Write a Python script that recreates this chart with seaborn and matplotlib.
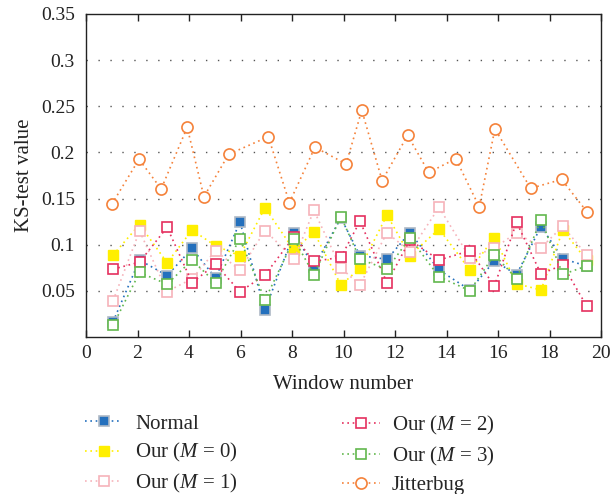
import matplotlib
matplotlib.use("Agg")
import matplotlib.pyplot as plt
import seaborn as sns
import pandas as pd

# ---- data ----
x_common = [1.05, 2.08, 3.15, 4.12, 5.03, 5.98, 6.95, 8.08, 8.85, 9.90,
            10.64, 11.69, 12.58, 13.71, 14.91, 15.86, 16.72, 17.67, 18.52, 19.44]
x_jitter = [1.00, 2.06, 2.92, 3.93, 4.58, 5.54, 7.08, 7.90, 8.89, 10.10,
            10.71, 11.50, 12.49, 13.31, 14.36, 15.27, 15.88, 17.27, 18.47, 19.46]

normal = [0.0166, 0.0834, 0.0666, 0.0959, 0.0639, 0.1246, 0.0293, 0.1127, 0.0759, 0.1290,
          0.0883, 0.0842, 0.1132, 0.0726, 0.0509, 0.0824, 0.0677, 0.1197, 0.0848, 0.0769]
our_m0 = [0.0889, 0.1219, 0.0805, 0.1159, 0.0988, 0.0880, 0.1401, 0.0939, 0.1138, 0.0563,
          0.0744, 0.1322, 0.0883, 0.1170, 0.0726, 0.1078, 0.0578, 0.0509, 0.1159, 0.0831]
our_m1 = [0.0393, 0.1149, 0.0493, 0.0631, 0.0935, 0.0724, 0.1154, 0.0845, 0.1371, 0.0748,
          0.0563, 0.1132, 0.0924, 0.1405, 0.0859, 0.0964, 0.1130, 0.0968, 0.1200, 0.0889]
our_m2 = [0.0735, 0.0811, 0.1189, 0.0588, 0.0788, 0.0491, 0.0672, 0.1087, 0.0820, 0.0864,
          0.1254, 0.0588, 0.1051, 0.0834, 0.0935, 0.0553, 0.1243, 0.0683, 0.0782, 0.0336]
our_m3 = [0.0127, 0.0699, 0.0572, 0.0834, 0.0588, 0.1065, 0.0401, 0.1062, 0.0675, 0.1304,
          0.0843, 0.0734, 0.1075, 0.0653, 0.0501, 0.0892, 0.0632, 0.1268, 0.0679, 0.0769]
jitterbug = [0.1438, 0.1926, 0.1604, 0.2272, 0.1520, 0.1980, 0.2170, 0.1455, 0.2056, 0.1875,
             0.2457, 0.1694, 0.2186, 0.1783, 0.1932, 0.1412, 0.2254, 0.1611, 0.1707, 0.1355]

labels = ["Normal", "Our ($M$ = 0)", "Our ($M$ = 1)", "Our ($M$ = 2)", "Our ($M$ = 3)", "Jitterbug"]
x_ticks = [0, 2, 4, 6, 8, 10, 12, 14, 16, 18, 20]
y_ticks = [0.05, 0.1, 0.15, 0.2, 0.25, 0.3, 0.35]
y_ticklabels = ["0.05", "0.1", "0.15", "0.2", "0.25", "0.3", "0.35"]

# ---- style ----
sns.set_style("white")
plt.rcParams["font.family"] = ["Liberation Serif", "DejaVu Serif"]
plt.rcParams["mathtext.fontset"] = "custom"
plt.rcParams["mathtext.it"] = "Liberation Serif:italic"
plt.rcParams["mathtext.rm"] = "Liberation Serif"

fig = plt.figure(figsize=(6.10, 4.94), dpi=100)
ax = fig.add_axes([86 / 610, 1 - 337 / 494, (601 - 86) / 610, (337 - 14) / 494])

series = [
    (x_common, normal, dict(color="#2470BD", marker="s", mfc="#2470BD", mec="#AEB9C6", ms=7.0, mew=1.2)),
    (x_common, our_m0, dict(color="#FFEF00", marker="s", mfc="#FFEF00", mec="#FFEF00", ms=7.0, mew=1.0)),
    (x_common, our_m1, dict(color="#F6B3BA", marker="s", mfc="white", mec="#F6B3BA", ms=7.0, mew=1.2)),
    (x_common, our_m2, dict(color="#E5305F", marker="s", mfc="white", mec="#E5305F", ms=7.0, mew=1.2)),
    (x_common, our_m3, dict(color="#62B84E", marker="s", mfc="white", mec="#62B84E", ms=7.0, mew=1.2)),
    (x_jitter, jitterbug, dict(color="#F5823A", marker="o", mfc="white", mec="#F5823A", ms=8.0, mew=1.2)),
]

handles = []
for (xs, ys, kw), lab in zip(series, labels):
    df = pd.DataFrame({"x": xs, "y": ys})
    sns.lineplot(data=df, x="x", y="y", ax=ax, sort=False, estimator=None,
                 linestyle=(0, (1, 2.2)), linewidth=1.2, label=lab, **kw)
    handles.append(ax.lines[-1])

ax.set_xlim(0, 20)
ax.set_ylim(0, 0.35)
ax.set_xticks(x_ticks)
ax.set_yticks(y_ticks)
ax.set_yticklabels(y_ticklabels)
ax.tick_params(axis="x", direction="in", top=True, bottom=True, length=5, width=1,
               labelsize=14, pad=6, colors="#222222")
ax.tick_params(axis="y", direction="in", left=False, right=False, length=0,
               labelsize=14, pad=8, colors="#222222")
for s in ax.spines.values():
    s.set_visible(True)
    s.set_color("#222222")
    s.set_linewidth(1.0)

for yv in y_ticks[:-1]:
    ax.axhline(yv, color="#555555", linewidth=1.0, linestyle=(0, (1, 7.6)), zorder=0.5)

ax.set_xlabel("Window number", fontsize=15, color="#222222", labelpad=9)
ax.set_ylabel("KS-test value", fontsize=15, color="#222222", labelpad=5)

ax.get_legend().remove()
leg_kw = dict(frameon=False, fontsize=15, handlelength=1.8, handletextpad=0.6,
              labelspacing=0.37, borderpad=0, borderaxespad=0, loc="upper left", numpoints=1)
fig.legend(handles[:3], labels[:3], bbox_to_anchor=(85 / 610, 1 - 414 / 494), **leg_kw)
fig.legend(handles[3:], labels[3:], bbox_to_anchor=(342 / 610, 1 - 414 / 494), **leg_kw)

fig.savefig("out.png", dpi=100)
